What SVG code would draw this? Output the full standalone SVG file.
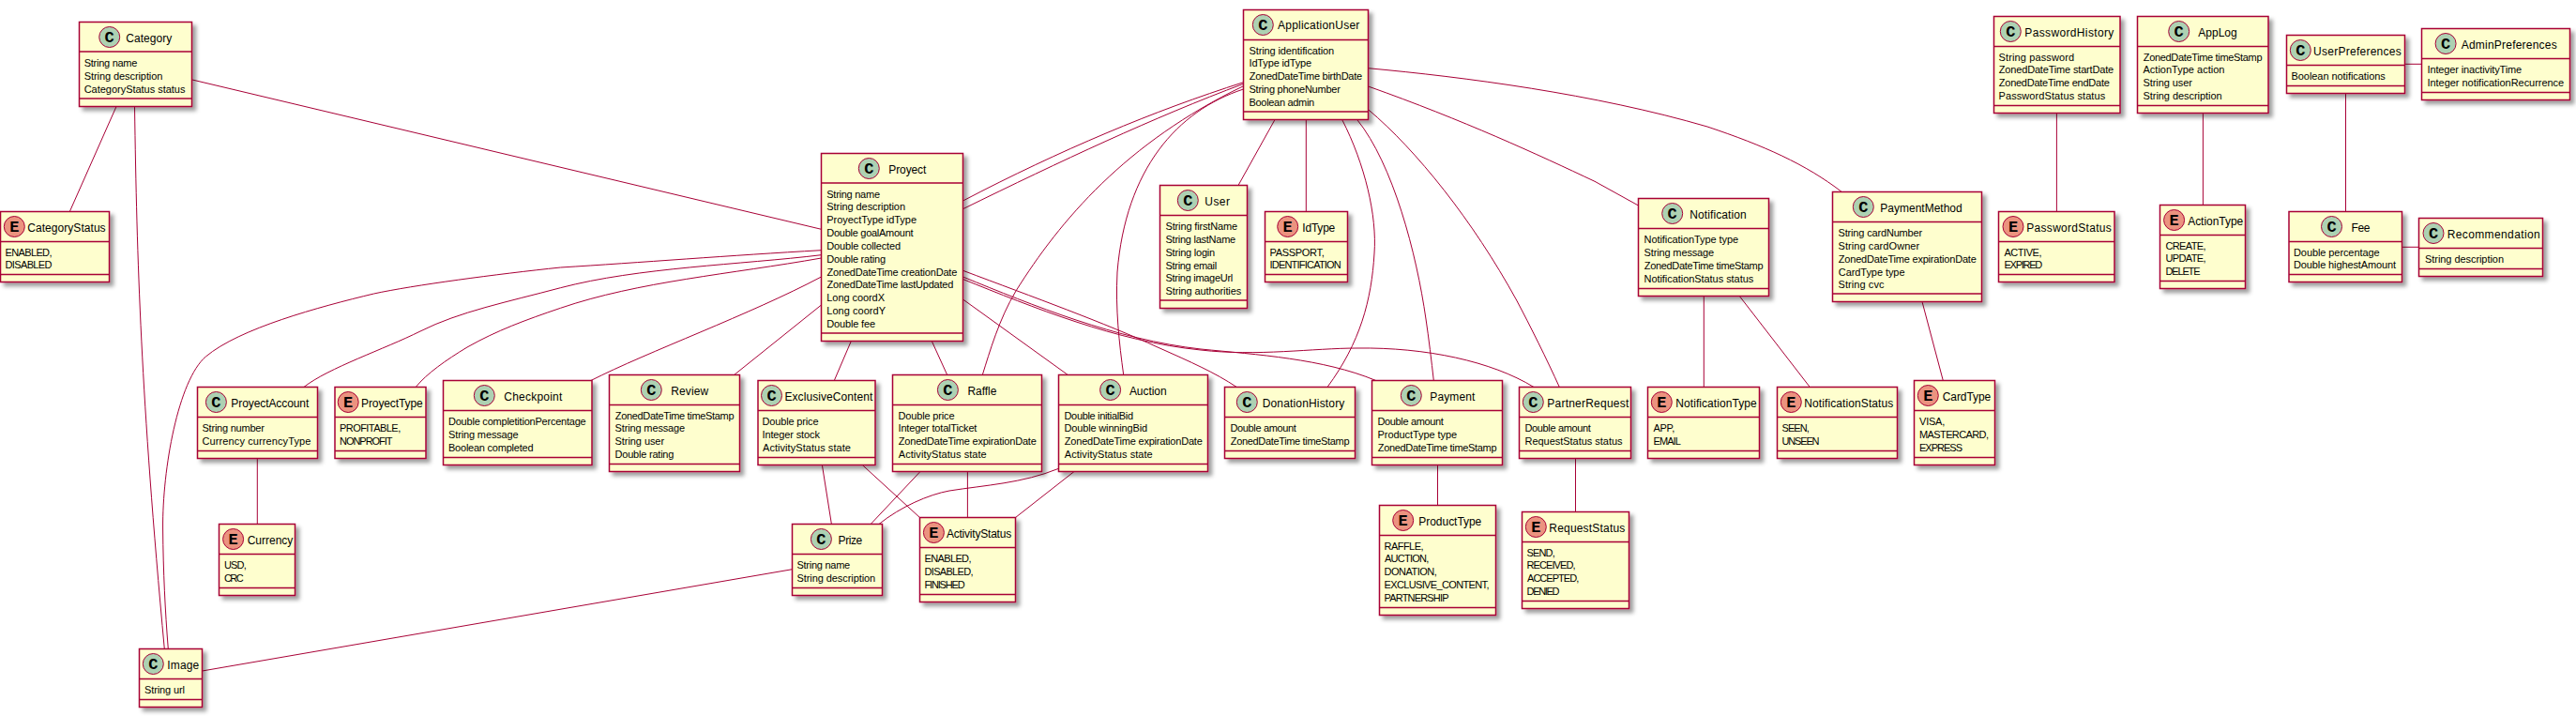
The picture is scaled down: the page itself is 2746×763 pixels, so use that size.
<svg xmlns="http://www.w3.org/2000/svg" width="2746" height="763" viewBox="0 0 2746 763">
<defs>
<filter id="sh" x="-20%" y="-20%" width="140%" height="140%"><feGaussianBlur in="SourceAlpha" stdDeviation="2"/><feColorMatrix type="matrix" values="0 0 0 0 0  0 0 0 0 0  0 0 0 0 0  0 0 0 .38 0"/><feOffset dx="4" dy="4" result="o"/><feMerge><feMergeNode in="o"/><feMergeNode in="SourceGraphic"/></feMerge></filter>
</defs>
<style>
.b{fill:#FEFECE;stroke:#A80036;stroke-width:1.5;filter:url(#sh)}
.s{fill:none;stroke:#A80036;stroke-width:1.5}
.c,.e{stroke:#A80036;stroke-width:1}
.c{fill:#ADD1B2}.e{fill:#EB937F}
.g{font:bold 17px "Liberation Mono",monospace;text-anchor:middle;fill:#000}
.t{font:12px "Liberation Sans",Arial,sans-serif;fill:#000}
.f{font:11px "Liberation Sans",Arial,sans-serif;fill:#000}
#connectors path{fill:none;stroke:#A80036;stroke-width:1}
</style>
<rect width="2746" height="763" fill="#fff"/>
<g id="connectors">
<path d="M124,113.5L74.3,225.5"/>
<path d="M143.5,113.5C146,280 150,420 175.3,691.5"/>
<path d="M205,85L875.5,244.3"/>
<path d="M875.5,266.7C780,272 680,280 597.5,285C530,292 440,304 398.5,313C340,327 255,350 219.4,380C190,405 173,500 173.6,563C174,610 176,650 179.3,691.5"/>
<path d="M875.5,271.7C790,282 680,285 597.5,306.7C540,322 490,332 448,353C410,372 350,392 323.9,412.5"/>
<path d="M875.5,275C780,292 680,300 597.5,328.3C560,341 530,352 498,370C475,384 455,398 443.2,412.5"/>
<path d="M875.5,295C800,335 690,375 629.9,405.5"/>
<path d="M875.5,325L782.6,399.5"/>
<path d="M1026.5,214C1130,160 1230,118 1325.5,87.7"/>
<path d="M1026.5,222.7C1130,172 1230,125 1325.5,89.3"/>
<path d="M1325.5,91.7C1200,152 1130,235 1083,310C1065,340 1055,375 1047.3,399.5"/>
<path d="M1325.5,95C1255,118 1200,180 1191,290C1189,330 1193,365 1197.7,399.5"/>
<path d="M1026.5,288.3C1100,316 1180,345 1234,370C1270,386 1295,397 1318.3,412.5"/>
<path d="M1026.5,295C1100,325 1190,362 1280,372C1340,378 1410,382 1466.7,405.5"/>
<path d="M1026.5,297.5C1100,327 1190,364 1280,373C1340,380 1400,371 1447,371C1520,370 1590,385 1635,412.5"/>
<path d="M1026.5,319L1138.3,399.5"/>
<path d="M993.3,363.5L1009.7,399.5"/>
<path d="M907.3,363.5L889.3,405.5"/>
<path d="M1359,127.5L1320,197.5"/>
<path d="M1392.3,127.5L1392.3,225.5"/>
<path d="M1430.7,127.5C1455,175 1468,230 1465,270C1462,320 1450,365 1415,412.5"/>
<path d="M1446.7,127.5C1485,175 1510,270 1520,340C1523,360 1526,385 1528.3,405.5"/>
<path d="M1458.5,116.7C1510,160 1570,235 1616.7,320C1630,345 1650,385 1662.3,412.5"/>
<path d="M1458.5,92C1560,128 1640,165 1700,193.3L1746.5,219"/>
<path d="M1458.5,72.7C1560,82 1700,100 1820,135C1880,155 1925,175 1963.3,204.5"/>
<path d="M1816.3,315.5L1816.3,412.5"/>
<path d="M1854.3,315.5L1929.3,412.5"/>
<path d="M2049,321.5L2071.3,405.5"/>
<path d="M2192.4,120.5L2192.4,225.5"/>
<path d="M2348.4,120.5L2348.4,218.5"/>
<path d="M2500.5,99.5L2500.5,225.5"/>
<path d="M2563.5,68.3L2581.5,68.3"/>
<path d="M2560.5,263.3L2578.5,263.3"/>
<path d="M274.3,488.5L274.3,558.5"/>
<path d="M844.5,606.7L215.5,715"/>
<path d="M876.4,495.5L886.4,558.5"/>
<path d="M919.3,495.5L980.5,551.5"/>
<path d="M981,502.5L928.2,558.5"/>
<path d="M1031.4,502.5L1031.4,551.5"/>
<path d="M1145,502.5L1082.5,551.5"/>
<path d="M1128.5,499.3C1090,515 1050,517 1012,523C990,527 960,540 937,558.5"/>
<path d="M1532.5,495.5L1532.5,538.5"/>
<path d="M1679.5,488.5L1679.5,545.5"/>
</g>
<g id="Category"><rect class="b" x="84.5" y="23.5" width="120" height="90"/><path class="s" d="M84.5 55H204.5M84.5 105H204.5"/><circle class="c" cx="116.7" cy="39.5" r="11"/><text class="g" x="116.7" y="45">C</text><text class="t" x="134.3" y="44.5" textLength="49">Category</text><text class="f" x="89.7" y="71" textLength="56.7">String name</text><text class="f" x="89.7" y="85" textLength="83.7">String description</text><text class="f" x="89.7" y="99" textLength="107.7">CategoryStatus status</text></g>
<g id="CategoryStatus"><rect class="b" x="0.5" y="225.5" width="116" height="75"/><path class="s" d="M0.5 257.5H116.5M0.5 292.5H116.5"/><circle class="e" cx="15.3" cy="241.5" r="11"/><text class="g" x="15.3" y="247">E</text><text class="t" x="29.3" y="246.5" textLength="83.3">CategoryStatus</text><text class="f" x="5.5" y="273" textLength="50">ENABLED,</text><text class="f" x="5.5" y="286" textLength="50">DISABLED</text></g>
<g id="Proyect"><rect class="b" x="875.5" y="163.5" width="151" height="200"/><path class="s" d="M875.5 195H1026.5M875.5 355H1026.5"/><circle class="c" cx="926.3" cy="179.5" r="11"/><text class="g" x="926.3" y="185">C</text><text class="t" x="947.3" y="184.5" textLength="40">Proyect</text><text class="f" x="881.3" y="211" textLength="56.7">String name</text><text class="f" x="881.3" y="224" textLength="83.7">String description</text><text class="f" x="881.3" y="238" textLength="95.7">ProyectType idType</text><text class="f" x="881.3" y="252" textLength="92.3">Double goalAmount</text><text class="f" x="881.3" y="266" textLength="78.7">Double collected</text><text class="f" x="881.3" y="280" textLength="62.7">Double rating</text><text class="f" x="881.6" y="294" textLength="138.7">ZonedDateTime creationDate</text><text class="f" x="881.6" y="307" textLength="134.7">ZonedDateTime lastUpdated</text><text class="f" x="881.3" y="321" textLength="61.7">Long coordX</text><text class="f" x="881.3" y="335" textLength="62.7">Long coordY</text><text class="f" x="881.3" y="349" textLength="51.7">Double fee</text></g>
<g id="ApplicationUser"><rect class="b" x="1325.5" y="10.5" width="133" height="117"/><path class="s" d="M1325.5 42.5H1458.5M1325.5 119H1458.5"/><circle class="c" cx="1346.3" cy="26.5" r="11"/><text class="g" x="1346.3" y="32">C</text><text class="t" x="1362" y="31" textLength="87.3">ApplicationUser</text><text class="f" x="1331.5" y="58" textLength="90.7">String identification</text><text class="f" x="1331.5" y="71" textLength="66.7">IdType idType</text><text class="f" x="1331.8" y="85" textLength="120.3">ZonedDateTime birthDate</text><text class="f" x="1331.5" y="99" textLength="97.3">String phoneNumber</text><text class="f" x="1331.5" y="113" textLength="69.7">Boolean admin</text></g>
<g id="User"><rect class="b" x="1236.5" y="197.5" width="93" height="131"/><path class="s" d="M1236.5 229.5H1329.5M1236.5 320H1329.5"/><circle class="c" cx="1266.3" cy="213.5" r="11"/><text class="g" x="1266.3" y="219">C</text><text class="t" x="1284.3" y="218.5" textLength="26.7">User</text><text class="f" x="1242.5" y="245" textLength="76.7">String firstName</text><text class="f" x="1242.5" y="259" textLength="74.7">String lastName</text><text class="f" x="1242.5" y="273" textLength="52.7">String login</text><text class="f" x="1242.5" y="287" textLength="54.7">String email</text><text class="f" x="1242.5" y="300" textLength="71.7">String imageUrl</text><text class="f" x="1242.5" y="314" textLength="80.7">String authorities</text></g>
<g id="IdType"><rect class="b" x="1348.5" y="225.5" width="88" height="75"/><path class="s" d="M1348.5 257.5H1436.5M1348.5 292.5H1436.5"/><circle class="e" cx="1372.7" cy="241.5" r="11"/><text class="g" x="1372.7" y="247">E</text><text class="t" x="1388.3" y="246.5" textLength="35">IdType</text><text class="f" x="1353.5" y="273" textLength="58.3">PASSPORT,</text><text class="f" x="1353.5" y="286" textLength="76.3">IDENTIFICATION</text></g>
<g id="Notification"><rect class="b" x="1746.5" y="211.5" width="139" height="104"/><path class="s" d="M1746.5 243.5H1885.5M1746.5 307.5H1885.5"/><circle class="c" cx="1782.7" cy="227.5" r="11"/><text class="g" x="1782.7" y="233">C</text><text class="t" x="1801.3" y="232.5" textLength="60.4">Notification</text><text class="f" x="1752.5" y="259" textLength="100.7">NotificationType type</text><text class="f" x="1752.5" y="273" textLength="74.7">String message</text><text class="f" x="1752.8" y="287" textLength="126.7">ZonedDateTime timeStamp</text><text class="f" x="1752.5" y="301" textLength="116.7">NotificationStatus status</text></g>
<g id="PaymentMethod"><rect class="b" x="1953.5" y="204.5" width="159" height="117"/><path class="s" d="M1953.5 236.5H2112.5M1953.5 313H2112.5"/><circle class="c" cx="1986.3" cy="220.5" r="11"/><text class="g" x="1986.3" y="226">C</text><text class="t" x="2004.3" y="225.5" textLength="87.4">PaymentMethod</text><text class="f" x="1959.5" y="252" textLength="89.7">String cardNumber</text><text class="f" x="1959.5" y="266" textLength="86.7">String cardOwner</text><text class="f" x="1959.8" y="280" textLength="147">ZonedDateTime expirationDate</text><text class="f" x="1959.8" y="294" textLength="70.7">CardType type</text><text class="f" x="1959.5" y="307" textLength="49">String cvc</text></g>
<g id="PasswordHistory"><rect class="b" x="2125.5" y="17.5" width="134.5" height="103"/><path class="s" d="M2125.5 49.5H2260M2125.5 112.5H2260"/><circle class="c" cx="2143.3" cy="33.5" r="11"/><text class="g" x="2143.3" y="39">C</text><text class="t" x="2158.3" y="38.5" textLength="95">PasswordHistory</text><text class="f" x="2130.5" y="65" textLength="80.7">String password</text><text class="f" x="2130.8" y="78" textLength="122.4">ZonedDateTime startDate</text><text class="f" x="2130.8" y="92" textLength="118">ZonedDateTime endDate</text><text class="f" x="2130.5" y="106" textLength="113.7">PasswordStatus status</text></g>
<g id="PasswordStatus"><rect class="b" x="2130.5" y="225.5" width="123.5" height="75"/><path class="s" d="M2130.5 257.5H2254M2130.5 292.5H2254"/><circle class="e" cx="2146" cy="241.5" r="11"/><text class="g" x="2146" y="247">E</text><text class="t" x="2160.3" y="246.5" textLength="90.5">PasswordStatus</text><text class="f" x="2136.5" y="273" textLength="40">ACTIVE,</text><text class="f" x="2136.5" y="286" textLength="40.7">EXPIRED</text></g>
<g id="AppLog"><rect class="b" x="2278.5" y="17.5" width="139.5" height="103"/><path class="s" d="M2278.5 49.5H2418M2278.5 112.5H2418"/><circle class="c" cx="2322.7" cy="33.5" r="11"/><text class="g" x="2322.7" y="39">C</text><text class="t" x="2343.3" y="38.5" textLength="41.4">AppLog</text><text class="f" x="2284.8" y="65" textLength="126.7">ZonedDateTime timeStamp</text><text class="f" x="2284.5" y="78" textLength="86.9">ActionType action</text><text class="f" x="2284.5" y="92" textLength="52.5">String user</text><text class="f" x="2284.5" y="106" textLength="84.1">String description</text></g>
<g id="ActionType"><rect class="b" x="2302.5" y="218.5" width="91" height="89"/><path class="s" d="M2302.5 250.5H2393.5M2302.5 299.5H2393.5"/><circle class="e" cx="2317.6" cy="234.5" r="11"/><text class="g" x="2317.6" y="240">E</text><text class="t" x="2332.2" y="239.5" textLength="59">ActionType</text><text class="f" x="2308.5" y="266" textLength="43">CREATE,</text><text class="f" x="2308.5" y="279" textLength="43">UPDATE,</text><text class="f" x="2308.5" y="293" textLength="37">DELETE</text></g>
<g id="UserPreferences"><rect class="b" x="2437.5" y="37.5" width="126" height="62"/><path class="s" d="M2437.5 69.5H2563.5M2437.5 91.5H2563.5"/><circle class="c" cx="2452.3" cy="53.5" r="11"/><text class="g" x="2452.3" y="59">C</text><text class="t" x="2466.1" y="58.5" textLength="93.6">UserPreferences</text><text class="f" x="2442.5" y="85" textLength="100.3">Boolean notifications</text></g>
<g id="AdminPreferences"><rect class="b" x="2581.5" y="30.5" width="158" height="76"/><path class="s" d="M2581.5 62.5H2739.5M2581.5 98.5H2739.5"/><circle class="c" cx="2607.1" cy="46.5" r="11"/><text class="g" x="2607.1" y="52">C</text><text class="t" x="2623.7" y="51.5" textLength="102">AdminPreferences</text><text class="f" x="2587.5" y="78" textLength="100.7">Integer inactivityTime</text><text class="f" x="2587.5" y="92" textLength="145.7">Integer notificationRecurrence</text></g>
<g id="Fee"><rect class="b" x="2440" y="225.5" width="120.5" height="75"/><path class="s" d="M2440 257.5H2560.5M2440 292.5H2560.5"/><circle class="c" cx="2485.5" cy="241.5" r="11"/><text class="g" x="2485.5" y="247">C</text><text class="t" x="2506.4" y="246.5" textLength="20">Fee</text><text class="f" x="2445" y="273" textLength="91.6">Double percentage</text><text class="f" x="2445" y="286" textLength="109">Double highestAmount</text></g>
<g id="Recommendation"><rect class="b" x="2578.5" y="232.5" width="132" height="62"/><path class="s" d="M2578.5 264.5H2710.5M2578.5 286.5H2710.5"/><circle class="c" cx="2594" cy="248.5" r="11"/><text class="g" x="2594" y="254">C</text><text class="t" x="2608.7" y="253.5" textLength="99">Recommendation</text><text class="f" x="2585" y="280" textLength="84">String description</text></g>
<g id="ProyectAccount"><rect class="b" x="210.5" y="412.5" width="128" height="76"/><path class="s" d="M210.5 444.5H338.5M210.5 480.5H338.5"/><circle class="c" cx="230.4" cy="428.5" r="11"/><text class="g" x="230.4" y="434">C</text><text class="t" x="246.3" y="433.5" textLength="83">ProyectAccount</text><text class="f" x="215.5" y="460" textLength="66.4">String number</text><text class="f" x="215.5" y="474" textLength="115.9">Currency currencyType</text></g>
<g id="ProyectType"><rect class="b" x="357" y="412.5" width="97" height="76"/><path class="s" d="M357 444.5H454M357 480.5H454"/><circle class="e" cx="371.2" cy="428.5" r="11"/><text class="g" x="371.2" y="434">E</text><text class="t" x="385" y="433.5" textLength="65.7">ProyectType</text><text class="f" x="362" y="460" textLength="65.2">PROFITABLE,</text><text class="f" x="362" y="474" textLength="56.5">NONPROFIT</text></g>
<g id="Checkpoint"><rect class="b" x="472.5" y="405.5" width="158.5" height="90"/><path class="s" d="M472.5 437.5H631M472.5 487.5H631"/><circle class="c" cx="516.3" cy="421.5" r="11"/><text class="g" x="516.3" y="427">C</text><text class="t" x="537.3" y="426.5" textLength="62">Checkpoint</text><text class="f" x="478" y="453" textLength="146.7">Double completitionPercentage</text><text class="f" x="478" y="467" textLength="74.7">String message</text><text class="f" x="478" y="481" textLength="90.5">Boolean completed</text></g>
<g id="Review"><rect class="b" x="649.5" y="399.5" width="139" height="103"/><path class="s" d="M649.5 431.5H788.5M649.5 494.5H788.5"/><circle class="c" cx="694.3" cy="415.5" r="11"/><text class="g" x="694.3" y="421">C</text><text class="t" x="715.2" y="420.5" textLength="40">Review</text><text class="f" x="655.8" y="447" textLength="126.7">ZonedDateTime timeStamp</text><text class="f" x="655.5" y="460" textLength="74.7">String message</text><text class="f" x="655.5" y="474" textLength="52.6">String user</text><text class="f" x="655.5" y="488" textLength="62.9">Double rating</text></g>
<g id="Currency"><rect class="b" x="233.5" y="558.5" width="81" height="76"/><path class="s" d="M233.5 590.5H314.5M233.5 626.5H314.5"/><circle class="e" cx="248.6" cy="574.5" r="11"/><text class="g" x="248.6" y="580">E</text><text class="t" x="263.7" y="579.5" textLength="48.6">Currency</text><text class="f" x="239" y="606" textLength="23.7">USD,</text><text class="f" x="239" y="620" textLength="20.6">CRC</text></g>
<g id="Image"><rect class="b" x="148.5" y="691.5" width="67" height="62"/><path class="s" d="M148.5 723.5H215.5M148.5 745.5H215.5"/><circle class="c" cx="163.3" cy="707.5" r="11"/><text class="g" x="163.3" y="713">C</text><text class="t" x="178.3" y="712.5" textLength="34">Image</text><text class="f" x="154" y="739" textLength="43">String url</text></g>
<g id="ExclusiveContent"><rect class="b" x="808" y="405.5" width="125" height="90"/><path class="s" d="M808 437.5H933M808 487.5H933"/><circle class="c" cx="822.5" cy="421.5" r="11"/><text class="g" x="822.5" y="427">C</text><text class="t" x="836.4" y="426.5" textLength="94">ExclusiveContent</text><text class="f" x="812.5" y="453" textLength="60">Double price</text><text class="f" x="812.5" y="467" textLength="61.4">Integer stock</text><text class="f" x="813" y="481" textLength="93.9">ActivityStatus state</text></g>
<g id="Raffle"><rect class="b" x="951.5" y="399.5" width="159" height="103"/><path class="s" d="M951.5 431.5H1110.5M951.5 494.5H1110.5"/><circle class="c" cx="1010.4" cy="415.5" r="11"/><text class="g" x="1010.4" y="421">C</text><text class="t" x="1031.4" y="420.5" textLength="31">Raffle</text><text class="f" x="957.5" y="447" textLength="60">Double price</text><text class="f" x="957.5" y="460" textLength="83.9">Integer totalTicket</text><text class="f" x="957.8" y="474" textLength="147">ZonedDateTime expirationDate</text><text class="f" x="957.8" y="488" textLength="93.9">ActivityStatus state</text></g>
<g id="Auction"><rect class="b" x="1128.5" y="399.5" width="159" height="103"/><path class="s" d="M1128.5 431.5H1287.5M1128.5 494.5H1287.5"/><circle class="c" cx="1183.6" cy="415.5" r="11"/><text class="g" x="1183.6" y="421">C</text><text class="t" x="1203.9" y="420.5" textLength="39.7">Auction</text><text class="f" x="1134.5" y="447" textLength="73.6">Double initialBid</text><text class="f" x="1134.5" y="460" textLength="88.6">Double winningBid</text><text class="f" x="1134.8" y="474" textLength="147">ZonedDateTime expirationDate</text><text class="f" x="1134.8" y="488" textLength="93.9">ActivityStatus state</text></g>
<g id="Prize"><rect class="b" x="844.5" y="558.5" width="96" height="76"/><path class="s" d="M844.5 590.5H940.5M844.5 626.5H940.5"/><circle class="c" cx="875.4" cy="574.5" r="11"/><text class="g" x="875.4" y="580">C</text><text class="t" x="893.6" y="579.5" textLength="25.7">Prize</text><text class="f" x="849.5" y="606" textLength="56.7">String name</text><text class="f" x="849.5" y="620" textLength="83.7">String description</text></g>
<g id="ActivityStatus"><rect class="b" x="980.5" y="551.5" width="102" height="90"/><path class="s" d="M980.5 583.5H1082.5M980.5 633.5H1082.5"/><circle class="e" cx="995.4" cy="567.5" r="11"/><text class="g" x="995.4" y="573">E</text><text class="t" x="1008.9" y="572.5" textLength="69.3">ActivityStatus</text><text class="f" x="985.5" y="599" textLength="50">ENABLED,</text><text class="f" x="985.5" y="613" textLength="52">DISABLED,</text><text class="f" x="985.5" y="627" textLength="43.2">FINISHED</text></g>
<g id="DonationHistory"><rect class="b" x="1305.5" y="412.5" width="139" height="76"/><path class="s" d="M1305.5 444.5H1444.5M1305.5 480.5H1444.5"/><circle class="c" cx="1329.3" cy="428.5" r="11"/><text class="g" x="1329.3" y="434">C</text><text class="t" x="1345.7" y="433.5" textLength="87.6">DonationHistory</text><text class="f" x="1311.5" y="460" textLength="70.3">Double amount</text><text class="f" x="1311.8" y="474" textLength="126.7">ZonedDateTime timeStamp</text></g>
<g id="Payment"><rect class="b" x="1462.5" y="405.5" width="139" height="90"/><path class="s" d="M1462.5 437.5H1601.5M1462.5 487.5H1601.5"/><circle class="c" cx="1504.3" cy="421.5" r="11"/><text class="g" x="1504.3" y="427">C</text><text class="t" x="1524.3" y="426.5" textLength="48">Payment</text><text class="f" x="1468.5" y="453" textLength="70.3">Double amount</text><text class="f" x="1468.5" y="467" textLength="84.7">ProductType type</text><text class="f" x="1468.8" y="481" textLength="126.7">ZonedDateTime timeStamp</text></g>
<g id="PartnerRequest"><rect class="b" x="1619.5" y="412.5" width="119" height="76"/><path class="s" d="M1619.5 444.5H1738.5M1619.5 480.5H1738.5"/><circle class="c" cx="1634.3" cy="428.5" r="11"/><text class="g" x="1634.3" y="434">C</text><text class="t" x="1649.3" y="433.5" textLength="87">PartnerRequest</text><text class="f" x="1625.5" y="460" textLength="70.3">Double amount</text><text class="f" x="1625.5" y="474" textLength="104">RequestStatus status</text></g>
<g id="ProductType"><rect class="b" x="1470.5" y="538.5" width="124" height="117"/><path class="s" d="M1470.5 570.5H1594.5M1470.5 647.5H1594.5"/><circle class="e" cx="1495.7" cy="554.5" r="11"/><text class="g" x="1495.7" y="560">E</text><text class="t" x="1512.3" y="559.5" textLength="67">ProductType</text><text class="f" x="1475.5" y="586" textLength="42">RAFFLE,</text><text class="f" x="1476" y="599" textLength="47.3">AUCTION,</text><text class="f" x="1475.5" y="613" textLength="56.3">DONATION,</text><text class="f" x="1475.5" y="627" textLength="112">EXCLUSIVE_CONTENT,</text><text class="f" x="1475.5" y="641" textLength="69">PARTNERSHIP</text></g>
<g id="RequestStatus"><rect class="b" x="1622.5" y="545.5" width="114" height="103"/><path class="s" d="M1622.5 577.5H1736.5M1622.5 640.5H1736.5"/><circle class="e" cx="1637.3" cy="561.5" r="11"/><text class="g" x="1637.3" y="567">E</text><text class="t" x="1651.3" y="566.5" textLength="81">RequestStatus</text><text class="f" x="1627.5" y="593" textLength="30.3">SEND,</text><text class="f" x="1627.5" y="606" textLength="52">RECEIVED,</text><text class="f" x="1628" y="620" textLength="55.3">ACCEPTED,</text><text class="f" x="1627.5" y="634" textLength="35">DENIED</text></g>
<g id="NotificationType"><rect class="b" x="1756.5" y="412.5" width="119" height="76"/><path class="s" d="M1756.5 444.5H1875.5M1756.5 480.5H1875.5"/><circle class="e" cx="1771.3" cy="428.5" r="11"/><text class="g" x="1771.3" y="434">E</text><text class="t" x="1786.3" y="433.5" textLength="86.4">NotificationType</text><text class="f" x="1762.5" y="460" textLength="22.7">APP,</text><text class="f" x="1762.5" y="474" textLength="29.3">EMAIL</text></g>
<g id="NotificationStatus"><rect class="b" x="1894.5" y="412.5" width="128" height="76"/><path class="s" d="M1894.5 444.5H2022.5M1894.5 480.5H2022.5"/><circle class="e" cx="1909.3" cy="428.5" r="11"/><text class="g" x="1909.3" y="434">E</text><text class="t" x="1923.3" y="433.5" textLength="95">NotificationStatus</text><text class="f" x="1899.5" y="460" textLength="29.3">SEEN,</text><text class="f" x="1899.5" y="474" textLength="40">UNSEEN</text></g>
<g id="CardType"><rect class="b" x="2040.5" y="405.5" width="86" height="90"/><path class="s" d="M2040.5 437.5H2126.5M2040.5 487.5H2126.5"/><circle class="e" cx="2055.3" cy="421.5" r="11"/><text class="g" x="2055.3" y="427">E</text><text class="t" x="2070.7" y="426.5" textLength="51.6">CardType</text><text class="f" x="2046" y="453" textLength="27.3">VISA,</text><text class="f" x="2046" y="467" textLength="74">MASTERCARD,</text><text class="f" x="2046" y="481" textLength="46">EXPRESS</text></g>
</svg>
